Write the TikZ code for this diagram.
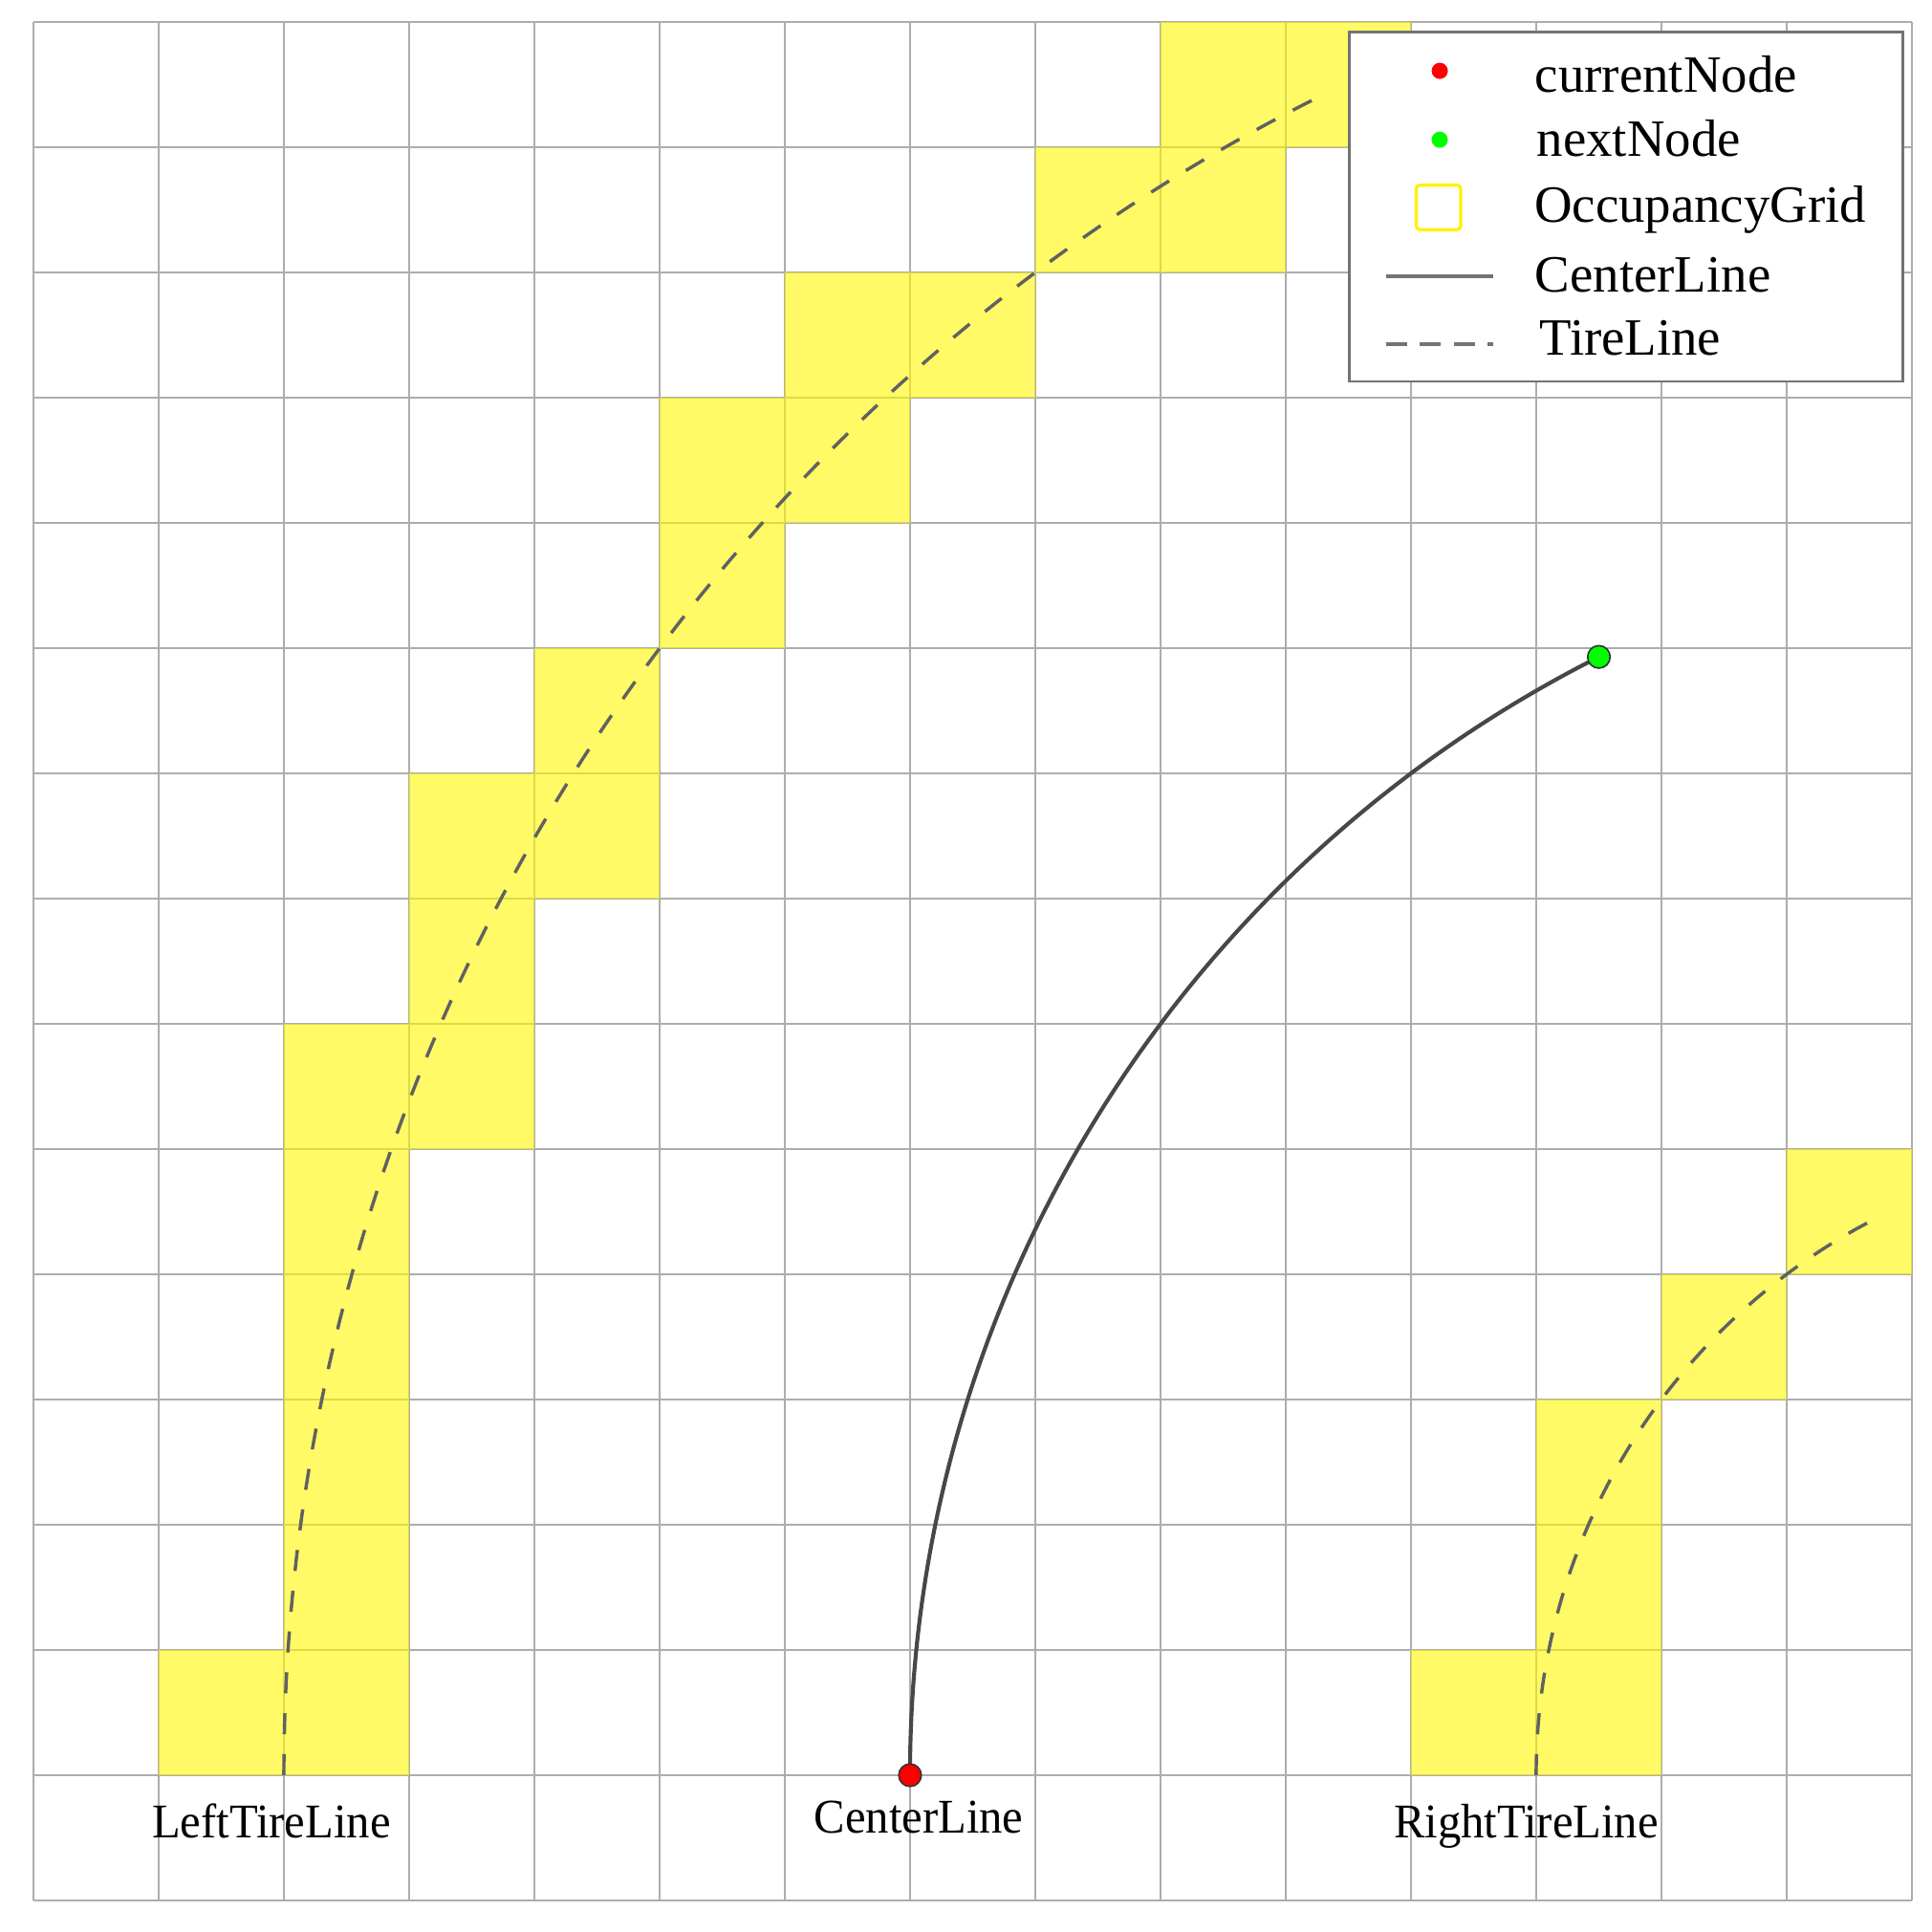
\documentclass[tikz,border=0pt]{standalone}
\usepackage{fontspec}
\setmainfont{Liberation Serif}
\usetikzlibrary{calc}
\definecolor{occ}{RGB}{255,248,0}
\begin{document}
\begin{tikzpicture}[x=1cm,y=1cm,
  gridline/.style={draw=black!32, line width=0.6pt},
  occcell/.style={fill=occ, fill opacity=0.6, draw=none},
  centerline/.style={draw=black!72, line width=0.9pt},
  tireline/.style={draw=black!62, line width=0.75pt, dash pattern=on 4.8pt off 4.5pt},
  legtire/.style={draw=black!55, line width=0.9pt, dash pattern=on 4.8pt off 2.9pt},
  dotnode/.style={circle, inner sep=0pt, minimum size=0.18cm, draw=black!80, line width=0.35pt},
  legdot/.style={circle, inner sep=0pt, minimum size=0.13cm, draw=none},
  legendbox/.style={draw=black!55, line width=0.6pt, fill=white, inner sep=0pt},
  lbl/.style={anchor=base, font=\fontsize{11}{13}\selectfont, inner sep=0pt},
  legtxt/.style={anchor=base west, font=\fontsize{11.9}{14}\selectfont, inner sep=0pt}
]
\useasboundingbox[fill=white] (-0.267,-0.252) rectangle (15.16,15.176);

% grid
\draw[gridline] (0,0) grid (15,15);

% occupied cells
\fill[occcell] (1,1) rectangle ++(1,1)
  \foreach \c/\r in {2/1,2/2,2/3,2/4,2/5,2/6,3/6,3/7,3/8,4/8,4/9,5/10,5/11,6/11,6/12,7/12,8/13,9/13,9/14,10/14,
                     11/1,12/1,12/2,12/3,13/4,14/5} {(\c,\r) rectangle ++(1,1)};

% tire lines
\coordinate (O) at (17,1);
\coordinate (ltStart) at (2,1);
\coordinate (rtStart) at (12,1);
\draw[tireline] (ltStart) arc[start angle=180, end angle=116.74, radius=15];
\draw[tireline] (rtStart) arc[start angle=180, end angle=116.74, radius=5];

% center line
\coordinate (curpt) at (7,1);
\draw[centerline] (curpt) arc[start angle=180, end angle=116.74, radius=10] coordinate (nextpt);
\node[dotnode, fill=red] (cur) at (curpt) {};
\node[dotnode, fill=green] (nxt) at (nextpt) {};

% labels
\node[lbl] (ltl) at (1.90,0.50) {\scalebox{0.96}[1]{LeftTireLine}};
\node[lbl] (cl) at (7.07,0.54) {\scalebox{0.96}[1]{CenterLine}};
\node[lbl] (rtl) at (11.92,0.50) {\scalebox{0.96}[1]{RightTireLine}};

% legend
\node[legendbox, minimum width=4.42cm, minimum height=2.79cm] (legend) at (12.72,13.525) {};
\node[legdot, fill=red] (lgcur) at (11.23,14.61) {};
\node[legtxt] (tcur) at (11.985,14.44) {currentNode};
\node[legdot, fill=green] (lgnext) at (11.23,14.06) {};
\node[legtxt] (tnext) at (12.00,13.93) {nextNode};
\node[draw=yellow, line width=0.7pt, rounded corners=0.8pt, minimum width=0.355cm, minimum height=0.355cm, inner sep=0pt] (lgocc) at (11.22,13.52) {};
\node[legtxt] (tocc) at (11.98,13.40) {OccupancyGrid};
\coordinate (lgc1) at (10.80,12.97);
\coordinate (lgc2) at (11.66,12.97);
\draw[centerline, draw=black!55] (lgc1) -- (lgc2);
\node[legtxt] (tcl) at (11.985,12.84) {CenterLine};
\coordinate (lgt1) at (10.80,12.43);
\coordinate (lgt2) at (11.66,12.43);
\draw[legtire] (lgt1) -- (lgt2);
\node[legtxt] (ttl) at (12.02,12.34) {TireLine};
\end{tikzpicture}
\end{document}
